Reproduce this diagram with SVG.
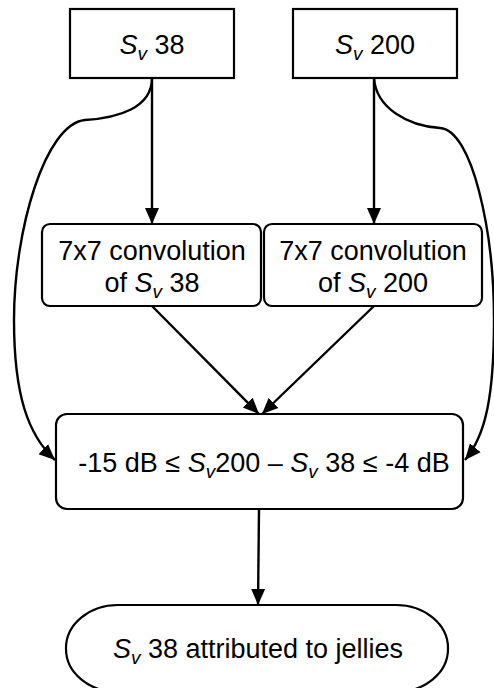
<svg xmlns="http://www.w3.org/2000/svg" width="494" height="688" viewBox="0 0 494 688">
<style>
.box{fill:#fff;stroke:#000;stroke-width:2.2}
.t{font-family:"Liberation Sans",Arial,sans-serif;font-size:27px;fill:#000;text-anchor:middle}
.i{font-style:italic}
.sub{font-style:italic;font-size:19px}
.c{fill:none;stroke:#000;stroke-width:2.4}
</style>
<defs>
<marker id="ah" markerUnits="userSpaceOnUse" markerWidth="16" markerHeight="16" viewBox="0 0 16 14" refX="16" refY="7" orient="auto">
<path d="M0,0 L16,7 L0,14 Z" fill="#000"/>
</marker>
</defs>
<g id="connectors">
<line class="c" x1="152" y1="78" x2="152" y2="224" marker-end="url(#ah)"/>
<line class="c" x1="374" y1="78" x2="374" y2="224" marker-end="url(#ah)"/>
<line class="c" x1="152" y1="306" x2="259" y2="414" marker-end="url(#ah)"/>
<line class="c" x1="374" y1="306" x2="262" y2="414" marker-end="url(#ah)"/>
<line class="c" x1="259" y1="509" x2="258" y2="605" marker-end="url(#ah)"/>
<path class="c" d="M152,78 C152,108 118,118 85,120 C45,124 14,230 14,320 C14,395 28,435 55,460" marker-end="url(#ah)"/>
<path class="c" d="M374,78 C376,108 408,126 440,128 C472,130 494,230 494,320 C494,395 486,435 465,460" marker-end="url(#ah)"/>
</g>
<g id="sv38">
<rect class="box" x="70" y="9" width="164" height="69"/>
<text class="t" x="152" y="54"><tspan class="i">S</tspan><tspan class="sub" dy="6">v</tspan><tspan dy="-6"> 38</tspan></text>
</g>
<g id="sv200">
<rect class="box" x="293" y="9" width="164" height="69"/>
<text class="t" x="375" y="54"><tspan class="i">S</tspan><tspan class="sub" dy="6">v</tspan><tspan dy="-6"> 200</tspan></text>
</g>
<g id="conv38">
<rect class="box" x="42" y="224" width="219" height="82" rx="8"/>
<text class="t" x="152" y="260">7x7 convolution</text>
<text class="t" x="152" y="292">of <tspan class="i">S</tspan><tspan class="sub" dy="6">v</tspan><tspan dy="-6"> 38</tspan></text>
</g>
<g id="conv200">
<rect class="box" x="264" y="224" width="218" height="82" rx="8"/>
<text class="t" x="373" y="260">7x7 convolution</text>
<text class="t" x="373" y="292">of <tspan class="i">S</tspan><tspan class="sub" dy="6">v</tspan><tspan dy="-6"> 200</tspan></text>
</g>
<g id="threshold">
<rect class="box" x="56" y="414" width="407" height="95" rx="11"/>
<text class="t" x="264" y="472">-15 dB ≤ <tspan class="i">S</tspan><tspan class="sub" dy="6">v</tspan><tspan dy="-6">200 – </tspan><tspan class="i">S</tspan><tspan class="sub" dy="6">v</tspan><tspan dy="-6"> 38 ≤ -4 dB</tspan></text>
</g>
<g id="result">
<rect class="box" x="66" y="605" width="382" height="87" rx="52" ry="43"/>
<text class="t" x="258" y="658"><tspan class="i">S</tspan><tspan class="sub" dy="6">v</tspan><tspan dy="-6"> 38 attributed to jellies</tspan></text>
</g>
</svg>
